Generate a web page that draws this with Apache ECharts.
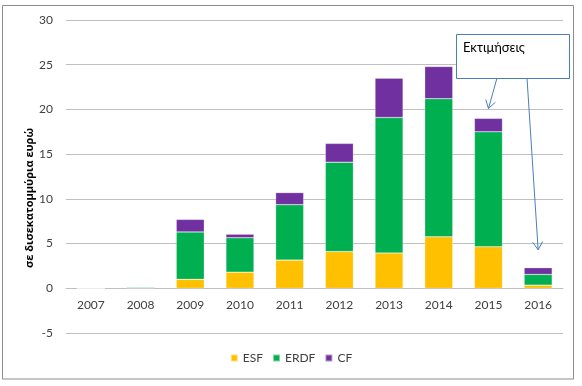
<!DOCTYPE html>
<html><head><meta charset="utf-8">
<script src="https://cdn.jsdelivr.net/npm/echarts@6/dist/echarts.min.js"></script>
<style>html,body{margin:0;padding:0;background:#fff}#c{width:582px;height:386px}</style>
</head><body><div id="c"></div>
<script>
var years = ['2007','2008','2009','2010','2011','2012','2013','2014','2015','2016'];
var esf  = [0, 0.05, 1.0, 1.8, 3.15, 4.1, 3.95, 5.75, 4.65, 0.35];
var erdf = [0, 0.1, 5.3, 3.85, 6.2, 10.0, 15.15, 15.45, 12.85, 1.2];
var cf   = [0, 0, 1.4, 0.4, 1.35, 2.1, 4.4, 3.6, 1.5, 0.75];
var yTicks = [-5, 0, 5, 10, 15, 20, 25, 30];
var noteText = 'Εκτιμήσεις';
var yTitle = 'σε δισεκατομμύρια ευρώ';

(function(){
var FONT = 'Lato, "Open Sans", sans-serif';
var W = 582, H = 386;
var G = {left:66, right:19, top:20, bottom:53};
var yMin = yTicks[0], yMax = yTicks[yTicks.length-1];
var gridH = H - G.top - G.bottom;
var zeroOffset = -(0 - yMin) / (yMax - yMin) * gridH;
var chart = echarts.init(document.getElementById('c'), null, {renderer:'canvas'});
function bar(name, data, color){
  return {name:name, type:'bar', stack:'t', data:data, barWidth:28,
    itemStyle:{color:color, borderColor:'rgba(255,255,255,0.5)', borderWidth:0.5}};
}
chart.setOption({
  animation:false,
  textStyle:{fontFamily:FONT},
  grid:{left:G.left, right:G.right, top:G.top, bottom:G.bottom, containLabel:false},
  legend:{bottom:17, left:'center', itemWidth:7, itemHeight:7, itemGap:9,
    icon:'rect', textStyle:{fontSize:12, color:'#404040', fontFamily:FONT},
    data:['ESF','ERDF','CF']},
  xAxis:{type:'category', data:years, offset:zeroOffset,
    axisLine:{onZero:false, lineStyle:{color:'#BFBFBF', width:1}},
    axisTick:{show:false},
    axisLabel:{color:'#404040', fontSize:12, margin:11, fontFamily:FONT}},
  yAxis:{type:'value', min:yMin, max:yMax, interval:5,
    axisLine:{show:false}, axisTick:{show:false},
    axisLabel:{color:'#404040', fontSize:12, margin:13, fontFamily:FONT},
    splitLine:{lineStyle:{color:'#BFBFBF', width:1}}},
  series:[bar('ESF', esf, '#FFC000'), bar('ERDF', erdf, '#00B050'), bar('CF', cf, '#7030A0')]
});

function total(i){ return esf[i]+erdf[i]+cf[i]; }
var p15 = chart.convertToPixel({gridIndex:0}, [8, total(8)+1.1]);
var p16 = chart.convertToPixel({gridIndex:0}, [9, total(9)+2.0]);
var bx = 456, by = 34, bw = 113, bh = 44;
var s1 = [497, by+bh], s2 = [527, by+bh];
function arrow(s, e){
  var dx = e[0]-s[0], dy = e[1]-s[1], L = Math.sqrt(dx*dx+dy*dy);
  var ux = dx/L, uy = dy/L, h = 8, w = 5;
  var bxp = e[0]-ux*h, byp = e[1]-uy*h;
  return [
    {type:'line', shape:{x1:s[0], y1:s[1], x2:e[0], y2:e[1]}, style:{stroke:'#4A7EBB', lineWidth:1}},
    {type:'polyline', shape:{points:[[bxp-uy*w, byp+ux*w],[e[0],e[1]],[bxp+uy*w, byp-ux*w]]},
     style:{stroke:'#4A7EBB', lineWidth:1, fill:null}}
  ];
}
chart.setOption({graphic:[
  {type:'rect', shape:{x:2.5, y:5.5, width:571, height:373.5}, style:{fill:null, stroke:'#8C8C8C', lineWidth:1}, z:0},
  {type:'text', x:30, y:198, rotation:Math.PI/2,
   style:{text:yTitle, fill:'#000', font:'bold 11px "Open Sans", Lato, sans-serif', textAlign:'center', textVerticalAlign:'middle'}, z:5},
  {type:'rect', shape:{x:bx+0.5, y:by+0.5, width:bw, height:bh}, style:{fill:'#fff', stroke:'#4A7EBB', lineWidth:1}, z:10},
  {type:'text', x:bx+7, y:by+7, style:{text:noteText, fill:'#000', font:'13px '+FONT}, z:11}
].concat(arrow(s1, p15)).concat(arrow(s2, p16))});
})();
</script></body></html>
